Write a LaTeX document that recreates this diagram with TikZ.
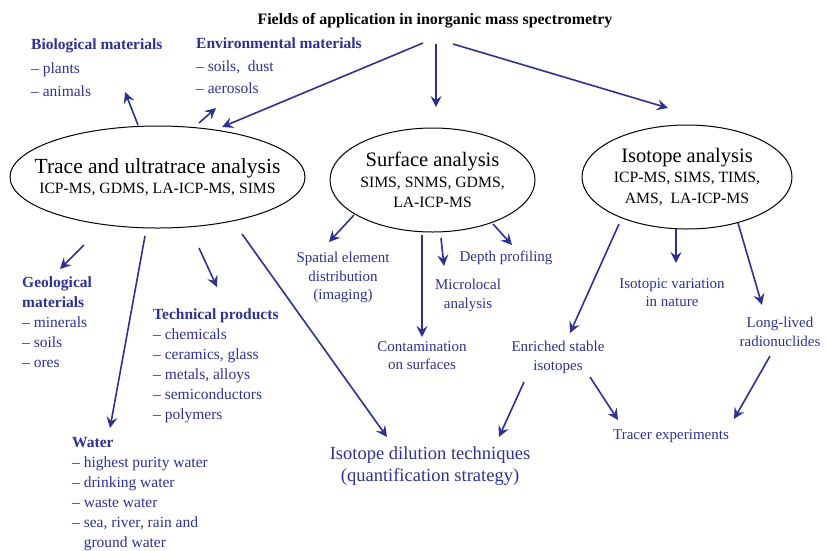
\documentclass[tikz,border=0pt]{standalone}
\usepackage{fontspec}
\setmainfont{Liberation Serif}
\usetikzlibrary{shapes.geometric,arrows.meta}

\definecolor{fieldblue}{RGB}{46,49,146}

\tikzset{
  field/.style={ellipse,draw=black,line width=1pt,inner sep=-30pt,align=center,
    font=\fontsize{15.7}{20.5}\selectfont},
  topic/.style={text=fieldblue,inner sep=0pt,align=center,anchor=north,
    font=\fontsize{15}{18.5}\selectfont},
  itemlist/.style={text=fieldblue,inner sep=0pt,align=left,anchor=north west,
    font=\fontsize{15.5}{20}\selectfont},
  arr/.style={draw=fieldblue,line width=1.6pt,-{Stealth[length=11pt,width=11pt,inset=4pt]}}
}

\begin{document}
\begin{tikzpicture}[x=1pt,y=-1pt]
\useasboundingbox (0,0) rectangle (826,550);

\node[inner sep=0pt,anchor=north,font=\fontsize{15.9}{17}\selectfont\bfseries] (title) at (435,13)
  {Fields of application in inorganic mass spectrometry};

% the three main fields
\node[field,minimum width=295,minimum height=102] (trace) at (157.5,177)
  {{\fontsize{21.5}{22}\selectfont Trace and ultratrace analysis}\\ICP-MS, GDMS, LA-ICP-MS, SIMS};
\node[field,minimum width=205,minimum height=104] (surface) at (432.5,180)
  {{\fontsize{20.5}{21}\selectfont Surface analysis}\\SIMS, SNMS, GDMS,\\LA-ICP-MS};
\node[field,minimum width=210,minimum height=104] (iso) at (687,177)
  {{\fontsize{20.5}{21}\selectfont Isotope analysis}\\ICP-MS, SIMS, TIMS,\\AMS,\ \ LA-ICP-MS};

% sample types
\node[itemlist,font=\fontsize{15.5}{23.5}\selectfont] (bio) at (31,39)
  {\textbf{Biological materials}\\-- plants\\-- animals};
\node[itemlist,font=\fontsize{15.5}{22.5}\selectfont] (env) at (196,38)
  {\textbf{Environmental materials}\\-- soils,\ \ dust\\-- aerosols};
\node[itemlist] (geo) at (22,277)
  {\textbf{Geological}\\\textbf{materials}\\-- minerals\\-- soils\\-- ores};
\node[itemlist] (tech) at (153,309)
  {\textbf{Technical products}\\-- chemicals\\-- ceramics, glass\\-- metals, alloys\\-- semiconductors\\-- polymers};
\node[itemlist] (water) at (72,437)
  {\textbf{Water}\\-- highest purity water\\-- drinking water\\-- waste water\\-- sea, river, rain and\\\phantom{-- }ground water};

% surface and isotope topics
\node[topic] (spatial) at (343,252) {Spatial element\\distribution\\(imaging)};
\node[topic] (depth) at (506,251) {Depth profiling};
\node[topic] (micro) at (468,279) {Microlocal\\analysis};
\node[topic] (contam) at (422,341) {Contamination\\on surfaces};
\node[topic] (isovar) at (672,278) {Isotopic variation\\in nature};
\node[topic] (longlived) at (780,317) {Long-lived\\radionuclides};
\node[topic] (enriched) at (558,341) {Enriched stable\\isotopes};
\node[topic] (tracer) at (671,429) {Tracer experiments};
\node[topic,font=\fontsize{18.5}{22}\selectfont] (isodil) at (430,446)
  {Isotope dilution techniques\\(quantification strategy)};

% connectors
\draw[arr] ([shift={(-12,30)}]title.north) -- ([shift={(64.5,-50)}]trace.center);
\draw[arr] ([shift={(1,31)}]title.north) -- ([shift={(3.5,-73)}]surface.center);
\draw[arr] ([shift={(18,31)}]title.north) -- ([shift={(-19,-69)}]iso.center);

\draw[arr] ([shift={(-19.5,-52)}]trace.center) -- ([shift={(94,53)}]bio.north west);
\draw[arr] ([shift={(41.5,-54)}]trace.center) -- ([shift={(20,70)}]env.north west);
\draw[arr] ([shift={(-73.5,68)}]trace.center) -- ([shift={(38,-8)}]geo.north west);
\draw[arr] ([shift={(-12.5,59)}]trace.center) -- ([shift={(38,-9)}]water.north west);
\draw[arr] ([shift={(41.5,71)}]trace.center) -- ([shift={(64,-22)}]tech.north west);
\draw[arr] ([shift={(84.5,57)}]trace.center) -- ([shift={(-43,-9)}]isodil.north);

\draw[arr] ([shift={(-78.5,35)}]surface.center) -- ([shift={(-14,-10)}]spatial.north);
\draw[arr] ([shift={(-10.5,55)}]surface.center) -- ([shift={(0,-4)}]contam.north);
\draw[arr] ([shift={(8.5,58)}]surface.center) -- ([shift={(-24,-13)}]micro.north);
\draw[arr] ([shift={(60.5,44)}]surface.center) -- ([shift={(6,-6)}]depth.north);

\draw[arr] ([shift={(-68,47)}]iso.center) -- ([shift={(12,-8)}]enriched.north);
\draw[arr] ([shift={(-11,52)}]iso.center) -- ([shift={(4,-15)}]isovar.north);
\draw[arr] ([shift={(51,46)}]iso.center) -- ([shift={(-18,-12)}]longlived.north);

\draw[arr] ([shift={(-34,41)}]enriched.north) -- ([shift={(69,-9)}]isodil.north);
\draw[arr] ([shift={(32,36)}]enriched.north) -- ([shift={(-53,-9)}]tracer.north);
\draw[arr] ([shift={(-10,39)}]longlived.north) -- ([shift={(63,-10)}]tracer.north);
\end{tikzpicture}
\end{document}
